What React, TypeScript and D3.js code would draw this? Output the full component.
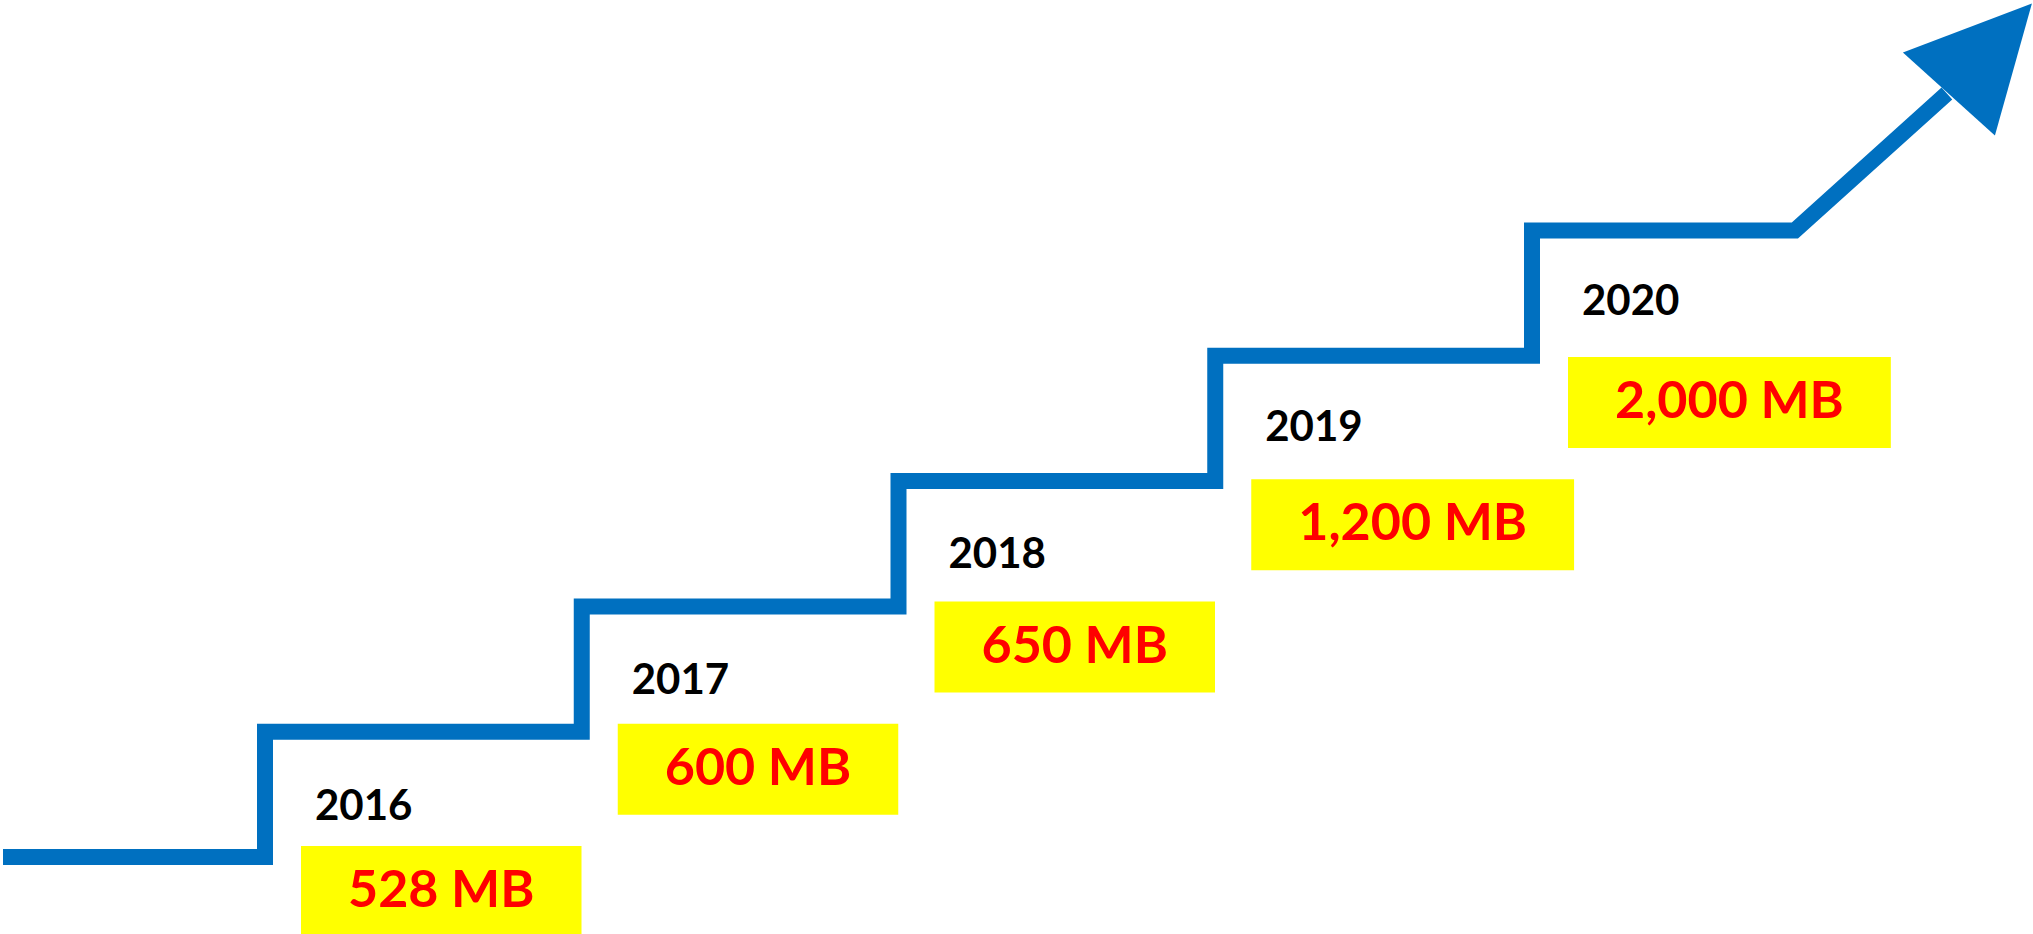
import React, { useEffect, useRef } from 'react';
import * as d3 from 'd3';

const years: string[] = ['2016', '2017', '2018', '2019', '2020'];
const valuesMB: number[] = [528, 600, 650, 1200, 2000];
const unit = 'MB';

const W = 2033;
const H = 934;
const BLUE = '#0070C0';

export default function App() {
  const ref = useRef<SVGSVGElement | null>(null);

  useEffect(() => {
    document.body.style.margin = '0';
    const svg = d3.select(ref.current);
    svg.selectAll('*').remove();

    const n = years.length;
    // riser position per year (index scale)
    const xStep = d3.scaleLinear().domain([0, n - 1]).range([265, 1532]);
    // step levels (0 = ground, n = top)
    const yLevel = d3.scaleLinear().domain([0, n]).range([857, 230.5]);
    const yBox = d3.scaleLinear().domain([0, n - 1]).range([846, 357]);
    const yLabel = d3.scaleLinear().domain([0, n - 1]).range([820, 315]);

    // staircase points
    const pts: [number, number][] = [[3, yLevel(0)]];
    years.forEach((_, i) => {
      pts.push([xStep(i), yLevel(i)]);
      pts.push([xStep(i), yLevel(i + 1)]);
    });
    const stepEnd: [number, number] = [xStep(n - 1 + 0.83), yLevel(n)];
    pts.push(stepEnd);
    const shaftEnd: [number, number] = [stepEnd[0] + 152, stepEnd[1] - 137];
    pts.push(shaftEnd);

    const line = d3.line<[number, number]>().x(d => d[0]).y(d => d[1]);

    svg.append('path')
      .attr('d', line(pts) as string)
      .attr('fill', 'none')
      .attr('stroke', BLUE)
      .attr('stroke-width', 16)
      .attr('stroke-linejoin', 'miter')
      .attr('stroke-linecap', 'butt');

    const head: [number, number][] = [
      [stepEnd[0] + 108, stepEnd[1] - 178],
      [stepEnd[0] + 237, stepEnd[1] - 227],
      [stepEnd[0] + 200, stepEnd[1] - 95],
    ];
    svg.append('path')
      .attr('d', (line(head) as string) + 'Z')
      .attr('fill', BLUE);

    const fmt = d3.format(',');
    const g = svg.append('g');
    years.forEach((yr, i) => {
      const bx = xStep(i) + 36;
      const by = yBox(i);
      const rect = g.append('rect')
        .attr('x', bx)
        .attr('y', by)
        .attr('height', 91)
        .attr('fill', '#FFFF00');
      const t = g.append('text')
        .attr('y', by + 61)
        .attr('text-anchor', 'middle')
        .attr('font-family', 'Lato, sans-serif')
        .attr('font-weight', 700)
        .attr('font-size', 52)
        .attr('fill', '#FF0000')
        .text(`${fmt(valuesMB[i])} ${unit}`);
      const tw = (t.node() as SVGTextElement).getComputedTextLength();
      const bw = tw + 94;
      rect.attr('width', bw);
      t.attr('x', bx + bw / 2);

      g.append('text')
        .attr('x', xStep(i) + 50)
        .attr('y', yLabel(i))
        .attr('font-family', 'Lato, sans-serif')
        .attr('font-weight', 700)
        .attr('font-size', 42)
        .attr('fill', '#000000')
        .text(yr);
    });
  }, []);

  return (
    <svg ref={ref} width={W} height={H} style={{ display: 'block', background: '#fff' }} />
  );
}
